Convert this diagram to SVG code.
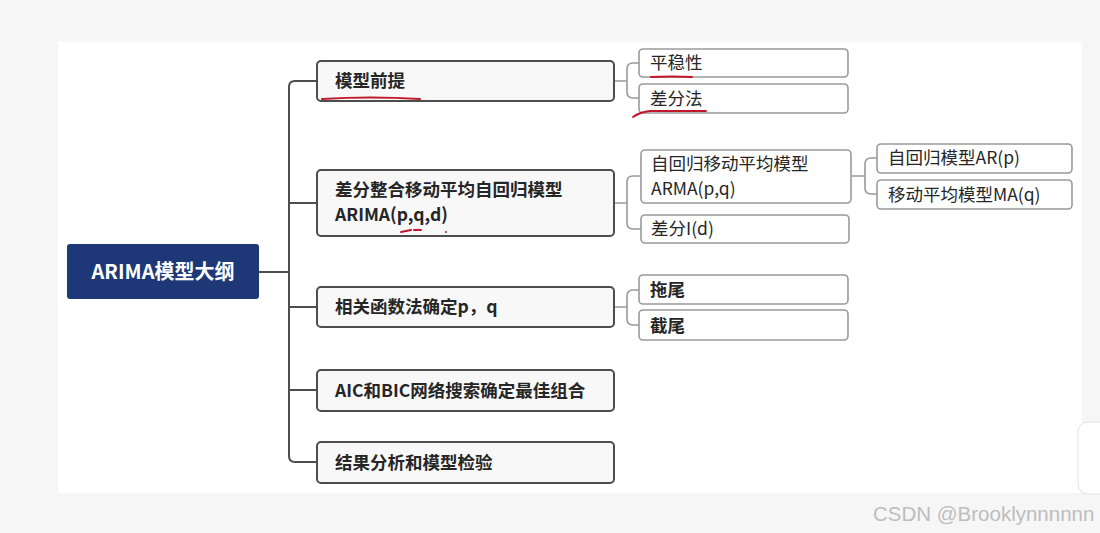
<svg xmlns="http://www.w3.org/2000/svg" width="1100" height="533" viewBox="0 0 1100 533">
<style>
.l1 rect{fill:#f8f8f8;stroke:#4d4d4d;stroke-width:2}
.l2 rect{fill:#fff;stroke:#9a9a9a;stroke-width:1.6}
text{font-family:"Noto Sans CJK SC","Noto Sans",sans-serif;font-size:17.5px;fill:#262626}
.l1 text{font-weight:bold;font-size:17.5px}
.c1{fill:none;stroke:#4d4d4d;stroke-width:2}
.c2{fill:none;stroke:#9a9a9a;stroke-width:1.6}
.red{fill:none;stroke:#c0182a;stroke-width:2;stroke-linecap:round}
</style>
<rect x="0" y="0" width="1100" height="533" fill="#f6f6f6"/>
<rect x="58" y="42" width="1024" height="451" fill="#ffffff"/>
<rect x="1078" y="422" width="40" height="72" rx="10" fill="#fff" stroke="#e2e2e2"/>
<g id="connectors">
<path class="c1" d="M259,272 H289 M317,81 H295 Q289,81 289,87 V456 Q289,462 295,462 H317 M289,203 H317 M289,307 H317 M289,390 H317"/>
<path class="c2" d="M614,81 H627 M639,63 H633 Q627,63 627,69 V92 Q627,98 633,98 H639"/>
<path class="c2" d="M614,203 H627 M641,176 H633 Q627,176 627,182 V223 Q627,229 633,229 H641"/>
<path class="c2" d="M851,176 H865 M877,158 H871 Q865,158 865,164 V188 Q865,194 871,194 H877"/>
<path class="c2" d="M614,307 H627 M639,290 H633 Q627,290 627,296 V319 Q627,325 633,325 H639"/>
</g>
<g id="root"><rect x="67" y="244" width="192" height="55" rx="3" fill="#1d3777"/><text x="163" y="279" text-anchor="middle" style="fill:#fff;font-weight:bold;font-size:20px">ARIMA模型大纲</text></g>
<g id="n1" class="l1"><rect x="317" y="61" width="297" height="40" rx="4"/><text x="335" y="87">模型前提</text></g>
<g id="n2" class="l1"><rect x="317" y="170" width="297" height="66" rx="4"/><text x="335" y="196">差分整合移动平均自回归模型</text><text x="335" y="221">ARIMA(p,q,d)</text></g>
<g id="n3" class="l1"><rect x="317" y="287" width="297" height="40" rx="4"/><text x="335" y="313">相关函数法确定p，q</text></g>
<g id="n4" class="l1"><rect x="317" y="370" width="297" height="41" rx="4"/><text x="335" y="397">AIC和BIC网络搜索确定最佳组合</text></g>
<g id="n5" class="l1"><rect x="317" y="442" width="297" height="41" rx="4"/><text x="335" y="469">结果分析和模型检验</text></g>
<g id="n11" class="l2"><rect x="639" y="49" width="209" height="28" rx="4"/><text x="650" y="69">平稳性</text></g>
<g id="n12" class="l2"><rect x="639" y="84" width="209" height="29" rx="4"/><text x="650" y="105">差分法</text></g>
<g id="n21" class="l2"><rect x="641" y="150" width="210" height="53" rx="4"/><text x="651" y="170">自回归移动平均模型</text><text x="651" y="195">ARMA(p,q)</text></g>
<g id="n22" class="l2"><rect x="641" y="215" width="208" height="28" rx="4"/><text x="651" y="235">差分I(d)</text></g>
<g id="n211" class="l2"><rect x="877" y="144" width="195" height="29" rx="4"/><text x="888" y="164">自回归模型AR(p)</text></g>
<g id="n212" class="l2"><rect x="877" y="180" width="195" height="29" rx="4"/><text x="888" y="201">移动平均模型MA(q)</text></g>
<g id="n31" class="l2"><rect x="639" y="275" width="209" height="29" rx="4"/><text x="650" y="296" style="font-weight:bold">拖尾</text></g>
<g id="n32" class="l2"><rect x="639" y="310" width="209" height="30" rx="4"/><text x="650" y="332" style="font-weight:bold">截尾</text></g>
<g id="annotations">
<path class="red" d="M322,99 Q370,96 420,99"/>
<path class="red" d="M651,77 Q672,76 692,77"/>
<path class="red" d="M633,117 Q640,112 650,111 L706,111"/>
<path class="red" d="M401,232 L411,230 M414,230 L421,230"/>
<circle cx="446" cy="232" r="1" fill="#c0182a"/>
</g>
<text x="873" y="521" style="fill:#bdbdbd;font-family:'Liberation Sans',sans-serif;font-size:20.5px">CSDN @Brooklynnnnnn</text>
</svg>
